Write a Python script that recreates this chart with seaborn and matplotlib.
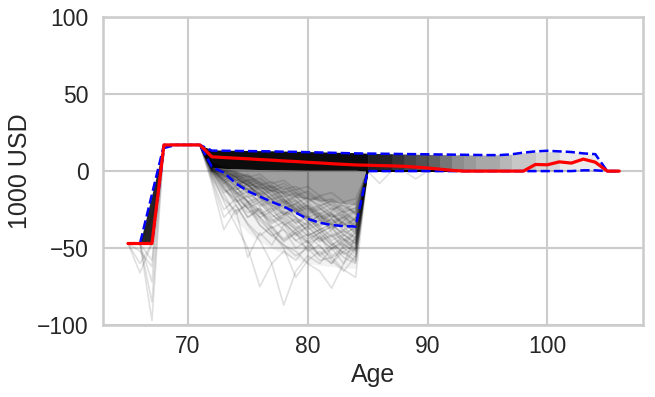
import numpy as np
import pandas as pd
import matplotlib
matplotlib.use("Agg")
import matplotlib.pyplot as plt
import seaborn as sns

# ---------------- data ----------------
ages = list(range(65, 107))

median = [-47, -47, -47, 17, 17, 17, 17,
          9.3, 8.8, 8.4, 8.0, 7.5, 7.1, 6.6, 6.2, 5.7, 5.3, 4.8, 4.4, 4.0,
          3.8, 3.6, 3.4, 3.1, 2.6, 2.0, 1.3, 0.5,
          0, 0, 0, 0, 0, 0,
          4.3, 4.1, 6.0, 5.2, 7.8, 5.8,
          0, 0]

upper = [-47, -47, -15, 17, 17, 17, 17,
         13.3, 13.2, 13.1, 13.0, 12.9, 12.8, 12.6, 12.5, 12.3, 12.1, 11.9, 11.7, 11.5,
         11.4, 11.3, 11.2, 11.1, 11.0, 10.9, 10.8, 10.7, 10.6, 10.5, 10.4,
         10.4, 10.9, 12.0, 12.8, 13.2, 12.8, 12.4, 11.5, 11.0,
         0, 0]

lower = [-47, -47, -47, 15, 17, 17, 17,
         2.8, -1, -8, -13, -16.5, -20, -23, -27, -31, -33.5, -35, -35.7, -36,
         0, 0, 0, 0, 0, 0, 0, 0, 0, 0, 0, 0, 0, 0, 0, 0, 0, 0,
         0.5, 0.5, 0, 0]

# density band of the simulated paths
core_ages = list(range(71, 86))
core_top = [17, 13.8, 13.6, 13.5, 13.4, 13.3, 13.2, 13.0, 12.9, 12.7, 12.5, 12.3, 12.1, 12.0, 11.6]
core_bot = [17, 2.5, 1.8, 1.4, 1.2, 1.0, 0.9, 0.8, 0.7, 0.6, 0.6, 0.6, 0.6, 0.6, 0.0]
mid_env = [17, 1.5, -3, -6, -9, -11, -13, -15, -17, -18, -19, -20, -21, -22, 0]
low_env = [17, 2.8, -1, -8, -13, -16.5, -20, -23, -27, -31, -33.5, -35, -35.7, -36, 0]
outer_env = [17, -6, -20, -32, -40, -46, -50, -54, -57, -60, -61, -62, -63, -63, 0]

tail_ages = list(range(85, 106))
tail_top = [11.6, 11.4, 11.2, 11.0, 10.9, 10.8, 10.7, 10.6, 10.5, 10.4, 10.4,
            10.6, 11.0, 11.8, 12.4, 12.6, 12.6, 12.2, 11.5, 10.8, 0]
layer_ends = [105, 101, 99, 97, 96, 94, 93, 92, 92, 91, 91, 90, 90,
              89, 89, 88, 88, 88, 87, 87, 87, 87, 86]

rise_ages = [66, 67, 68]
rise_top = [-47, -15, 17]
rise_bot = [-47, -47, 17]

# individual simulated paths (ages 72..84), start and end shared
path_head = [-47, -47, -47, 17, 17, 17, 17]          # ages 65..71
path_tail = [0, 0, 0, 0, 0, 0, 0, 0]                 # ages 85..92
path_segments = [
    [2, -5, -12, -8, -18, -25, -20, -30, -35, -28, -40, -45, -38],
    [0, -8, -3, -15, -22, -18, -28, -25, -33, -40, -36, -48, -52],
    [-3, -15, -28, -20, -35, -42, -38, -50, -45, -55, -60, -52, -58],
    [4, 0, -6, -12, -9, -16, -22, -19, -27, -24, -30, -28, -33],
    [1, -6, -18, -30, -25, -38, -45, -40, -52, -48, -58, -65, -55],
    [-8, -38, -25, -56, -40, -48, -35, -45, -50, -42, -55, -50, -46],
    [-2, -20, -35, -50, -75, -60, -52, -58, -48, -55, -50, -60, -42],
    [0, -10, -22, -35, -45, -60, -87, -65, -55, -60, -50, -45, -52],
    [3, -4, -10, -20, -30, -40, -50, -69, -58, -52, -60, -48, -40],
    [2, -6, -15, -25, -32, -40, -48, -52, -60, -65, -76, -60, -50],
    [1, -5, -14, -24, -35, -42, -48, -55, -50, -58, -56, -64, -69],
    [5, 2, -2, -6, -4, -10, -14, -12, -18, -22, -20, -26, -24],
    [3, -1, -8, -5, -12, -18, -15, -24, -20, -28, -34, -30, -25],
    [0, -12, -20, -16, -26, -32, -28, -22, -30, -38, -34, -42, -47],
    [2, -3, -7, -14, -20, -16, -24, -32, -38, -34, -28, -36, -44],
    [4, 1, -4, -10, -16, -22, -28, -34, -30, -36, -42, -38, -30],
    [-5, -25, -18, -30, -24, -36, -44, -38, -46, -40, -48, -56, -60],
    [2, -4, -10, -6, -14, -10, -18, -26, -22, -30, -26, -20, -28],
    [1, -7, -13, -22, -18, -28, -34, -42, -36, -44, -50, -46, -40],
    [3, -2, -6, -12, -20, -26, -22, -30, -40, -46, -42, -50, -56],
    [-1, -14, -10, -20, -28, -24, -34, -40, -46, -54, -48, -42, -36],
    [4, 0, -4, -2, -8, -14, -20, -16, -24, -32, -28, -34, -40],
    [2, -8, -16, -24, -20, -30, -26, -34, -42, -38, -46, -54, -50],
    [5, 3, 0, -4, -2, -8, -6, -12, -10, -16, -14, -20, -18],
    [-6, -30, -22, -34, -42, -36, -46, -40, -36, -44, -38, -32, -26],
    [1, -3, -9, -15, -11, -19, -25, -21, -29, -35, -31, -39, -43],
    [3, -2, -5, -9, -15, -12, -18, -24, -30, -27, -33, -29, -37],
    [0, -9, -15, -11, -17, -23, -19, -27, -23, -31, -37, -33, -41],
    [2, -4, -1, -7, -13, -19, -16, -22, -28, -25, -21, -27, -32],
    [4, 0, -3, -8, -5, -11, -17, -14, -20, -17, -23, -29, -35],
    [-2, -12, -18, -24, -30, -26, -32, -38, -34, -42, -48, -44, -50],
    [2, -6, -11, -17, -23, -20, -26, -30, -36, -32, -38, -44, -48],
    [5, 1, -2, -5, -9, -7, -12, -10, -15, -20, -18, -23, -27],
    [1, -4, -10, -17, -14, -21, -27, -33, -29, -36, -31, -38, -45],
    [3, -1, -6, -3, -10, -16, -13, -19, -25, -22, -28, -35, -31],
    [0, -7, -13, -19, -26, -33, -29, -36, -42, -38, -45, -41, -47],
    [4, 1, -3, -7, -12, -9, -15, -20, -26, -23, -19, -25, -21],
    [-4, -18, -26, -22, -30, -37, -33, -41, -47, -43, -51, -47, -54],
    [2, -3, -8, -13, -10, -15, -21, -17, -23, -29, -35, -40, -37],
    [1, -5, -12, -9, -16, -13, -20, -27, -24, -31, -27, -34, -39],
    [3, 0, -4, -9, -15, -21, -18, -25, -31, -37, -43, -39, -33],
    [0, -6, -2, -9, -15, -22, -28, -24, -31, -38, -35, -30, -36],
    [2, -2, -7, -12, -17, -23, -29, -26, -33, -29, -35, -41, -46],
    [-1, -10, -17, -13, -21, -28, -35, -31, -39, -45, -41, -49, -44],
    [4, 2, -1, -4, -8, -13, -10, -16, -13, -19, -25, -22, -28],
    [1, -8, -14, -20, -17, -24, -31, -38, -44, -40, -47, -53, -59],
    [3, -3, -9, -6, -12, -18, -24, -21, -17, -24, -30, -26, -32],
    [2, -1, -4, -10, -7, -13, -19, -25, -22, -28, -24, -31, -38],
    [0, -11, -19, -27, -24, -31, -38, -45, -41, -49, -56, -52, -48],
    [5, 2, -1, -3, -7, -11, -8, -14, -19, -16, -22, -27, -24],
    [1, -6, -13, -20, -27, -34, -30, -37, -33, -40, -36, -44, -51],
]
dip_tails = [[0, -8, 0, 0, 0, 0, 0, 0], [0, 0, 0, 0, -5, 0, 0, 0]]

spike_ages = [65, 66, 67, 68]
spikes = [[-47, -60, -47, 17], [-47, -66, -47, 17], [-47, -47, -85, 17],
          [-47, -47, -97, 17], [-47, -47, -72, 17], [-47, -52, -62, 17],
          [-47, -47, -58, 17], [-47, -47, -30, 17]]

# ---------------- build tables ----------------
path_ages = list(range(65, 93))
rows = []
for i, seg in enumerate(path_segments):
    tail = dip_tails[i] if i < len(dip_tails) else path_tail
    vals = path_head + seg + tail
    for a, v in zip(path_ages, vals):
        rows.append((f"p{i}", a, v))
for j, sp in enumerate(spikes):
    for a, v in zip(spike_ages, sp):
        rows.append((f"s{j}", a, v))
paths = pd.DataFrame(rows, columns=["path", "Age", "value"])

summary = pd.DataFrame({"Age": ages, "median": median, "upper": upper, "lower": lower})

# ---------------- plot ----------------
sns.set_theme(context="talk", style="whitegrid",
              rc={"xtick.major.size": 0, "ytick.major.size": 0,
                  "xtick.major.pad": 7, "ytick.major.pad": 10})
plt.rcParams["font.family"] = ["Liberation Sans", "DejaVu Sans"]

fig = plt.figure(figsize=(6.55, 3.97), dpi=100)
ax = fig.add_axes([0.157, 0.181, 0.825, 0.776])

ca = np.array(core_ages)
ax.fill_between(ca, outer_env, low_env, color="black", alpha=0.05, lw=0)
ax.fill_between(ca, low_env, core_bot, color="black", alpha=0.2, lw=0)
ax.fill_between(ca, mid_env, core_bot, color="black", alpha=0.22, lw=0)

sns.lineplot(data=paths, x="Age", y="value", units="path", estimator=None,
             color="black", alpha=0.12, lw=1.2, ax=ax, legend=False)

ax.fill_between(ca, core_bot, core_top, color="black", alpha=0.95, lw=0)
ax.fill_between(rise_ages, rise_bot, rise_top, color="black", alpha=0.85, lw=0)
ta = np.array(tail_ages)
for end in layer_ends:
    ax.fill_between(ta, 0, tail_top, where=ta <= end, color="black", alpha=0.08, lw=0)

sns.lineplot(data=summary, x="Age", y="upper", color="blue", lw=1.8,
             linestyle="--", ax=ax)
sns.lineplot(data=summary, x="Age", y="lower", color="blue", lw=1.8,
             linestyle="--", ax=ax)
sns.lineplot(data=summary, x="Age", y="median", color="red", lw=2.3, ax=ax)

ax.set_ylim(-100, 100)
ax.set_xlim(62.9, 108.0)
ax.set_xticks([70, 80, 90, 100])
ax.set_yticks([-100, -50, 0, 50, 100])
ax.set_xlabel("Age")
ax.set_ylabel("1000 USD")

fig.savefig("out.png", dpi=100)
